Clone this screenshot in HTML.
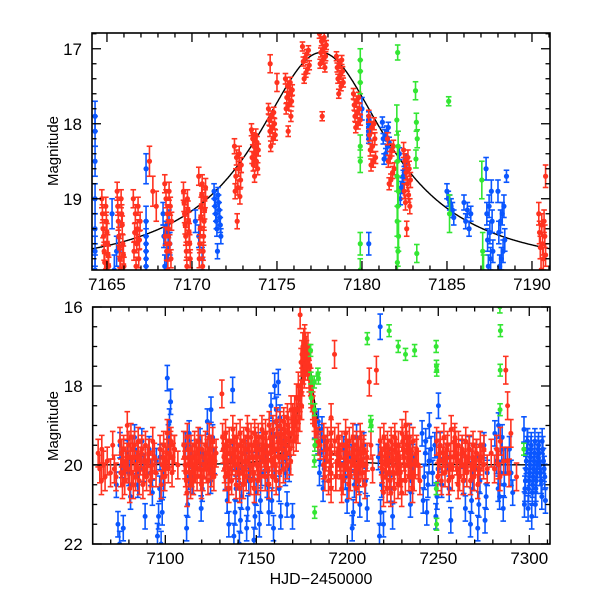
<!DOCTYPE html>
<html><head><meta charset="utf-8"><style>
html,body{margin:0;padding:0;background:#fff;}
svg{display:block;font-family:"Liberation Sans",sans-serif;}
</style></head><body>
<svg id="chart" width="600" height="600" viewBox="0 0 600 600" xmlns="http://www.w3.org/2000/svg">
<g id="top"></g>
<g id="bot"></g>
<text x="0" y="0" transform="translate(58,151) rotate(-90)" text-anchor="middle" font-size="15">Magnitude</text>
<text x="0" y="0" transform="translate(58,426) rotate(-90)" text-anchor="middle" font-size="15">Magnitude</text>
<text x="321" y="584" text-anchor="middle" font-size="16">HJD−2450000</text>
</svg>
<script>
// ---------- data ----------
const topRedT = [7164.9,7165.8,7166.75,7167.7,7168.6,7169.7,7170.6,7172.7,7173.7,7174.7,7174.8,7175.7,7176.7,7177.7,7178.7,7179.7,7180.6,7181.7,7182.65,7190.6,7190.8];
const topRedM = [
 [19.0,19.1,19.2,19.3,19.4,19.45,19.5,19.6,19.7,19.75,19.85,19.9,19.95],
 [18.9,19.0,19.1,19.2,19.3,19.35,19.5,19.6,19.65,19.75,19.8,19.9,19.95],
 [19.0,19.1,19.2,19.3,19.4,19.45,19.55,19.6,19.7,19.8,19.9],
 [18.5,18.9,19.1],
 [18.8,18.9,19.0,19.1,19.2,19.3,19.4,19.5,19.6,19.7,19.8,19.95],
 [18.9,19.0,19.05,19.15,19.2,19.3,19.35,19.45,19.5,19.6,19.7,19.8,19.9],
 [18.7,18.8,18.85,18.95,19.0,19.1,19.15,19.25,19.3,19.4,19.5,19.6,19.7,19.8,19.9],
 [18.3,18.4,18.45,18.55,18.6,18.7,18.75,18.85,18.9,18.97,19.3],
 [18.08,18.15,18.2,18.25,18.3,18.35,18.4,18.45,18.5,18.55,18.6,18.7],
 [17.8,17.85,17.9,17.95,18.0,18.05,18.1,18.15,18.2,18.3],
 [17.2,17.45],
 [17.4,17.45,17.5,17.55,17.6,17.65,17.7,17.75,17.8,17.9,18.1],
 [16.97,17.02,17.07,17.12,17.17,17.22,17.27,17.32,17.4],
 [16.8,16.85,16.9,16.95,17.0,17.05,17.1,17.15,17.2,17.25,17.9],
 [17.1,17.15,17.2,17.25,17.3,17.35,17.4,17.45,17.5,17.6],
 [17.6,17.65,17.7,17.75,17.8,17.85,17.9,17.95,18.0,18.05],
 [17.9,18.0,18.05,18.15,18.2,18.3,18.35,18.45,18.5,18.55],
 [18.2,18.3,18.35,18.45,18.5,18.6,18.65,18.75,18.8],
 [18.35,18.45,18.5,18.6,18.65,18.75,18.8,18.9,18.95,19.05,19.1,19.4],
 [19.2,19.3,19.35,19.45,19.5,19.6,19.65,19.75,19.8,19.95],
 [18.7]];
const topRedE = [0.12,0.12,0.12,0.2,0.12,0.12,0.12,0.1,0.08,0.07,0.12,0.07,0.06,0.06,0.06,0.07,0.08,0.08,0.1,0.15,0.15];
const topBlueT = [7164.5,7165.5,7167.5,7168.5,7170.4,7171.5,7180.2,7180.6,7181.4,7182.4,7185.2,7186.2,7187.5,7188.2,7188.5];
const topBlueM = [
 [17.9,18.1,18.5,19.0,19.4,19.7,19.95],
 [19.2,19.5,19.7,19.95],
 [18.6,19.3,19.5,19.6,19.7,19.8,19.9],
 [19.2,19.3,19.35,19.45,19.5,19.6,19.65,19.8,19.9],
 [19.3,19.5,19.8],
 [18.9,18.95,19.0,19.05,19.1,19.15,19.2,19.25,19.3,19.35,19.4,19.5,19.7],
 [17.8,19.6],
 [17.9,17.95,18.0,18.05,18.1,18.15,18.2],
 [17.98,18.05,18.1,18.15,18.2,18.25,18.3,18.4,18.47],
 [18.4,18.5,18.55,18.65,18.7,18.8,18.85,19.0],
 [18.9,19.0,19.05,19.1,19.15,19.25],
 [19.05,19.15,19.2,19.3,19.4],
 [18.6,18.9,19.1,19.2,19.3,19.45,19.55,19.7,19.8,19.9],
 [18.9,19.1,19.2,19.3,19.45,19.55,19.7,19.8,19.9],
 [18.7]];
const topBlueE = [0.2,0.2,0.2,0.15,0.15,0.1,0.15,0.06,0.07,0.08,0.1,0.1,0.15,0.15,0.08];
const topGreenT = [7179.95,7182.1,7182.1,7183.2,7185.1,7185.15,7187.1];
const topGreenM = [[17.15,17.3,17.45,18.3,18.5,19.6,19.95],[17.05],[17.95,18.3,18.5,18.7,18.9,19.1,19.3,19.5,19.7,19.85],[17.56,17.98,18.2,18.47,19.73],[17.7],[19.2],[18.75,19.7,20.0]];
const topGreenE = [0.15,0.1,0.2,0.12,0.06,0.25,0.25];

const botRedT = [7064,7066,7069,7072,7076,7078,7080,7082,7084,7086,7088,7090,7092,7094,7098,7100,7102,7104,7106,
 7111,7113,7115,7117,7119,7121,7123,7125,7127,7132,7134,7136,7138,7140,7142,7144,7146,7148,7150,7152,7154,7156,7158,7160,7162,7164,7166,7168,7170,
 7171,7172,7173,7174,7175,7175.5,7176,7176.5,7177,7177.5,7178,7178.5,7179,7180,7181,7182,7183,
 7186,7188,7190,7192,7193,7194,7196,7198,7200,7202,7204,7206,7208,7210,7213,7216,
 7219,7221,7223,7225,7227,7229,7231,7233,7235,7237,7239,
 7250,7252,7254,7256,7258,7260,7262,7264,7266,7268,7270,7272,7274,7276,7280,7283,7285,7288,7289,7293];
const botRedM = [
 [19.7,20.1,20.4],[19.6,20.0,20.3],[19.9,20.2],[19.5,20.1,20.3],[19.4,19.7,19.9,20.2,20.5],[19.6,19.8,20.0,20.4],[19.0,19.5,19.8,20.1,20.6],[19.3,19.6,19.8,20.2,20.5],[19.5,19.8,20.0,20.3],[19.4,19.7,19.9,20.4],[19.6,19.9,20.1,20.5],[19.5,19.7,19.9,20.3],[19.7,20.0,20.2,20.4],[19.4,19.8,20.2],[19.6,19.8,20.0,20.5],[19.5,19.7,19.9,20.3],[19.2,19.5,19.7,20.1],[19.4,19.6,19.8,20.2],[19.6,20.0],
 [19.5,19.8,20.0,20.2,20.4,20.7],[19.3,19.6,19.8,20.0,20.2,20.5],[19.6,19.8,20.0,20.2,20.4],[19.5,19.7,19.9,20.1,20.3],[19.4,19.6,19.8,20.1,20.3,20.5],[19.6,19.8,20.0,20.3],[19.5,19.7,19.9,20.1,20.4],[19.3,19.6,19.8,20.0,20.2],[19.4,19.7,19.9,20.3],
 [18.2,19.3,19.6,19.8,20.1,20.3],[19.2,19.5,19.7,19.9,20.2,20.6],[19.4,19.7,19.9,20.1,20.4],[19.1,19.4,19.6,19.8,20.0,20.5],[19.3,19.6,19.8,20.0,20.2,20.6],[19.2,19.5,19.7,19.9,20.1,20.5],[19.4,19.6,19.9,20.1,20.3],[19.1,19.3,19.5,19.8,20.0,20.4],[19.3,19.5,19.8,20.0,20.2,20.6],[19.2,19.4,19.6,19.8,20.0,20.4],[19.3,19.6,19.8,20.0,20.3],[19.1,19.3,19.5,19.7,19.9,20.3],[19.2,19.5,19.7,19.9,20.1,20.5],[19.0,19.3,19.5,19.7,19.9,20.3],[19.1,19.3,19.6,19.8,20.0,20.4],[18.9,19.2,19.4,19.6,19.8,20.2],[19.0,19.2,19.4,19.6,19.8,20.1],[18.9,19.1,19.3,19.5,19.7,20.0],[18.8,19.0,19.2,19.4,19.6,19.9],[18.6,18.8,19.0,19.2,19.4],
 [18.8,19.0,19.3],[18.6,18.9,19.1],[18.3,18.6,18.8],[18.0,18.3,18.5],[16.2,17.6,17.9,18.2],[17.4,17.7],[17.2,17.5],[17.0,17.3],[16.9,17.1,17.3],[16.8,17.0],[17.0,17.3],[17.2,17.5],[17.4,17.7,17.9],[17.8,18.1,18.3],[18.2,18.5,18.8],[18.6,19.0,19.2],[19.0,19.4],
 [19.5,20.0],[19.3,19.6,19.8,20.3],[19.4,19.7,19.9,20.4],[18.8,19.2,19.5,19.7,20.0,20.2,20.6],[17.2],[19.4,19.7,19.9,20.3],[19.3,19.6,19.8,20.0,20.3,20.6],[19.5,19.8,20.0,20.4],[19.2,19.5,19.7,19.9,20.1,20.5],[19.4,19.7,19.9,20.3],[19.3,19.6,19.8,20.0,20.2,20.6],[19.5,19.7,19.9,20.1,20.4],[19.3,19.5,19.7,20.0,20.2],[19.6,19.8,20.0,20.5],[17.9,19.5,20.1],[17.6],
 [19.4,19.7,19.9,20.1,20.3,20.7],[19.3,19.6,19.8,20.0,20.2,20.6],[19.5,19.7,19.9,20.2,20.4,20.7],[19.4,19.6,19.8,20.0,20.2,20.6],[19.3,19.5,19.7,19.9,20.1,20.5],[19.5,19.8,20.0,20.2,20.4,20.7],[19.2,19.4,19.6,19.8,20.0,20.4],[19.0,19.3,19.5,19.7,19.9,20.3],[19.3,19.6,19.8,20.0,20.2,20.6],[19.4,19.7,19.9,20.3],[19.6,20.0,20.4],
 [19.4,19.7,19.9,20.3],[19.5,19.7,19.9,20.4],[19.3,19.6,19.8,20.2],[19.5,19.8,20.0,20.4],[19.1,19.4,19.8,20.3],[19.3,19.5,19.7,19.9,20.1,20.5],[19.5,19.7,19.9,20.3],[19.6,19.8,20.0,20.4],[19.4,19.6,19.8,20.2],[19.6,19.8,20.0,20.4],[19.5,19.7,19.9,20.3],[19.7,19.9,20.1,20.5],[19.5,19.8,20.0],[19.6,20.1],[19.7,20.1],[19.6,20.0,20.3],[19.4,19.9],[17.6,19.9,20.2],[18.5,19.2],[20.3]];
const botBlueT = [7074,7076,7080,7084,7088,7092,7096,7098,7102,7112,7114,7120,7124,7126,7134,7137,7138,7141,7145,7149,7152,7156,7159,7161,7163,7166,7169,
 7183,7185,7187,7199,7203,7206,7210,7218,7219,7224,7235,7242,7244,7246,7249,7251,7256,7264,7268,7272,7276,7282,7284,7286,7290,7298,7300,7302,7304,7306,7308];
const botBlueM = [
 [20.5,21.5,22.0],[19.5,20.0,21.6],[19.7,20.2,20.8],[19.3,19.9,20.5],[19.4,20.1,21.3],[19.6,20.2,20.7],[19.9,20.6,21.3,21.8],[19.8,20.5,21.2,22.0],[17.8,18.4,18.9,19.3],
 [19.5,20.3,21.0,21.6],[19.2,19.7,20.4],[19.4,20.0,20.6,21.1],[18.9,19.6,20.4],[18.6,19.3,19.9],[20.3,20.9,21.5],[18.1],[19.8,20.6,21.2,21.8],[20.1,20.8,21.4,22.0],[19.7,20.4,21.1,21.6],[20.0,20.7,21.3,21.9],[19.5,20.2,20.9,21.5],[19.8,20.5,21.2],[18.5,19.2,20.0,20.9,21.6],[18.0,18.6,19.3],[17.9,18.8,19.8,20.6,21.3],[19.4,20.2,21.0],[20.1,21.3],
 [19.0,19.4],[18.9,19.3,19.7,20.2],[19.1,19.6,20.1,20.6],[19.6,20.3,20.9],[19.8,20.5,21.2,21.6],[19.3,20.2,21.0],[19.5,20.4,21.1],[19.8,20.5,21.2,21.8],[16.5,20.2,21.5],[19.9,20.6,21.3],[19.3,19.8,20.4,21.0],[19.2,19.7,20.3,20.9],[19.4,19.9,20.5,21.2],[19.0,19.6,20.2],[19.5,20.1,20.8,21.3],[18.5,19.5,20.5],[19.8,20.6,21.4],[19.7,20.4,21.1],[19.6,20.3,20.9,21.5],[19.8,20.4,21.0,21.6],[19.5,20.2,20.8,21.4],[19.2,19.9,20.6],[19.0,19.6,20.2,20.8],[19.3,19.9,20.5,21.1],[19.6,20.2,20.7],
 [19.1,19.4,19.6,19.9,20.1,20.4,20.6,21.0],[19.4,19.6,19.8,20.0,20.2,20.4,20.6,21.1],[19.5,19.7,19.9,20.1,20.3,20.5,20.7,21.3],[19.4,19.6,19.8,20.0,20.2,20.4,20.6,21.0],[19.5,19.7,20.0,20.2,20.4,20.8],[19.4,19.6,19.9,20.1,20.3,20.9]];
const botGreenT = [7180,7182,7184,7211,7213,7223,7228,7232,7237,7249,7284,7297];
const botGreenM = [[17.1,17.8,18.3],[17.9,18.6,19.5,19.9,21.2],[17.7,17.8],[16.8],[18.9,19.0],[16.6],[17.0],[17.2],[17.1],[17.0,17.5,17.6,20.6,21.5],[16.0,16.6,17.6,18.6],[19.6]];

const modelT0 = 7177.6, modelDepth = 2.95, modelW = 4.8, modelBase = 20.0;
const topNightDur = 0.4, botNightDur = 1.8;
const topXTicks = [7165,7170,7175,7180,7185,7190];
const topYTicks = [17,18,19];
const botXTicks = [7100,7150,7200,7250,7300];
const botYTicks = [16,18,20,22];

// ---------- drawing ----------
const NS = 'http://www.w3.org/2000/svg';
const RED='#ff3320', BLUE='#0a56ff', GREEN='#33e633';
function mk(parent, tag, attrs){const e=document.createElementNS(NS,tag);for(const k in attrs)e.setAttribute(k,attrs[k]);parent.appendChild(e);return e;}
function model(t){const x=(t-modelT0)/modelW;return modelBase-modelDepth/(1+x*x);}

function panel(g, box, xd, yd, xMajor, xMinor, yMajor, yMinor, xTicks, yTicks, name){
  const sx=t=>box.l+(t-xd[0])/(xd[1]-xd[0])*(box.r-box.l);
  const sy=m=>box.t+(m-yd[0])/(yd[1]-yd[0])*(box.b-box.t);
  const clipId='clip-'+name;
  const defs=mk(g,'defs',{});
  const cp=mk(defs,'clipPath',{id:clipId});
  mk(cp,'rect',{x:box.l,y:box.t,width:box.r-box.l,height:box.b-box.t});
  const plot=mk(g,'g',{'clip-path':'url(#'+clipId+')'});
  
  
  let d='';
  for(let t=xd[0];t<=xd[1];t+=(xd[1]-xd[0])/800){d+=(d?'L':'M')+sx(t).toFixed(1)+','+sy(model(t)).toFixed(1);}
  const curve=mk(plot,'path',{d:d,fill:'none',stroke:'#000','stroke-width':1.4});
  
  
  return {sx,sy,plot,finish:function(){
    const fr=mk(g,'rect',{x:box.l,y:box.t,width:box.r-box.l,height:box.b-box.t,fill:'none',stroke:'#000','stroke-width':1.6});
    
    
    const tk=mk(g,'g',{stroke:'#000','stroke-width':1.3});
    
    
    for(let v=Math.ceil(xd[0]/xMinor)*xMinor; v<=xd[1]; v+=xMinor){
      const maj=Math.abs(v/xMajor-Math.round(v/xMajor))<1e-6; const L=maj?9:4.5; const x=sx(v);
      mk(tk,'line',{x1:x,x2:x,y1:box.b,y2:box.b-L}); mk(tk,'line',{x1:x,x2:x,y1:box.t,y2:box.t+L});
    }
    for(let v=Math.ceil(yd[0]/yMinor-1e-6)*yMinor; v<=yd[1]+1e-6; v+=yMinor){
      const maj=Math.abs(v/yMajor-Math.round(v/yMajor))<1e-6; const L=maj?9:4.5; const y=sy(v);
      mk(tk,'line',{x1:box.l,x2:box.l+L,y1:y,y2:y}); mk(tk,'line',{x1:box.r,x2:box.r-L,y1:y,y2:y});
    }
    xTicks.forEach(v=>{const t=mk(g,'text',{x:sx(v),y:box.b+20,'text-anchor':'middle','font-size':17});t.textContent=v;
      
      });
    yTicks.forEach(v=>{const t=mk(g,'text',{x:box.l-10,y:sy(v)+6,'text-anchor':'end','font-size':17});t.textContent=v;
      
      });
  }};
}

function series(P, parent, T, M, E, dur, color, r, cap, sw, sname){
  const sg=mk(parent,'g',{stroke:color,fill:color,'stroke-width':sw});
  
  
  T.forEach((t,i)=>{
    const e=Array.isArray(E)?E[i]:E;
    const n=M[i].length;
    M[i].forEach((m,k)=>{
      const tt = n>1 ? t + ((k*7)%n/(n-1)-0.5)*dur : t;
      const x=P.sx(tt), y1=P.sy(m-e), y2=P.sy(m+e), y=P.sy(m);
      mk(sg,'line',{x1:x,x2:x,y1:y1,y2:y2});
      mk(sg,'line',{x1:x-cap,x2:x+cap,y1:y1,y2:y1});
      mk(sg,'line',{x1:x-cap,x2:x+cap,y1:y2,y2:y2});
      const c=mk(sg,'circle',{cx:x,cy:y,r:r,stroke:'none'});
      
      
    });
  });
}

const gTop=document.getElementById('top'), gBot=document.getElementById('bot');
const PT=panel(gTop,{l:92,r:550,t:33,b:270},[7164.12,7191.06],[16.79,19.95],5,1,1,0.2,topXTicks,topYTicks,'top');
series(PT,PT.plot,topBlueT,topBlueM,topBlueE,topNightDur,BLUE,2.6,2.8,1.6,'top-blue-series');
series(PT,PT.plot,topRedT,topRedM,topRedE,topNightDur,RED,2.6,2.8,1.6,'top-red-series');
series(PT,PT.plot,topGreenT,topGreenM,topGreenE,0.1,GREEN,2.6,2.8,1.6,'top-green-series');
PT.finish();

const PB=panel(gBot,{l:92.7,r:550,t:307,b:544},[7060.1,7311.4],[16,22],50,10,2,0.5,botXTicks,botYTicks,'bottom');
series(PB,PB.plot,botBlueT,botBlueM,0.32,botNightDur,BLUE,2.5,2.8,1.6,'bottom-blue-series');
series(PB,PB.plot,botRedT,botRedM,0.35,botNightDur,RED,2.5,2.8,1.6,'bottom-red-series');
series(PB,PB.plot,botGreenT,botGreenM,0.15,0.3,GREEN,2.5,2.8,1.6,'bottom-green-series');
PB.finish();
</script>
</body></html>
